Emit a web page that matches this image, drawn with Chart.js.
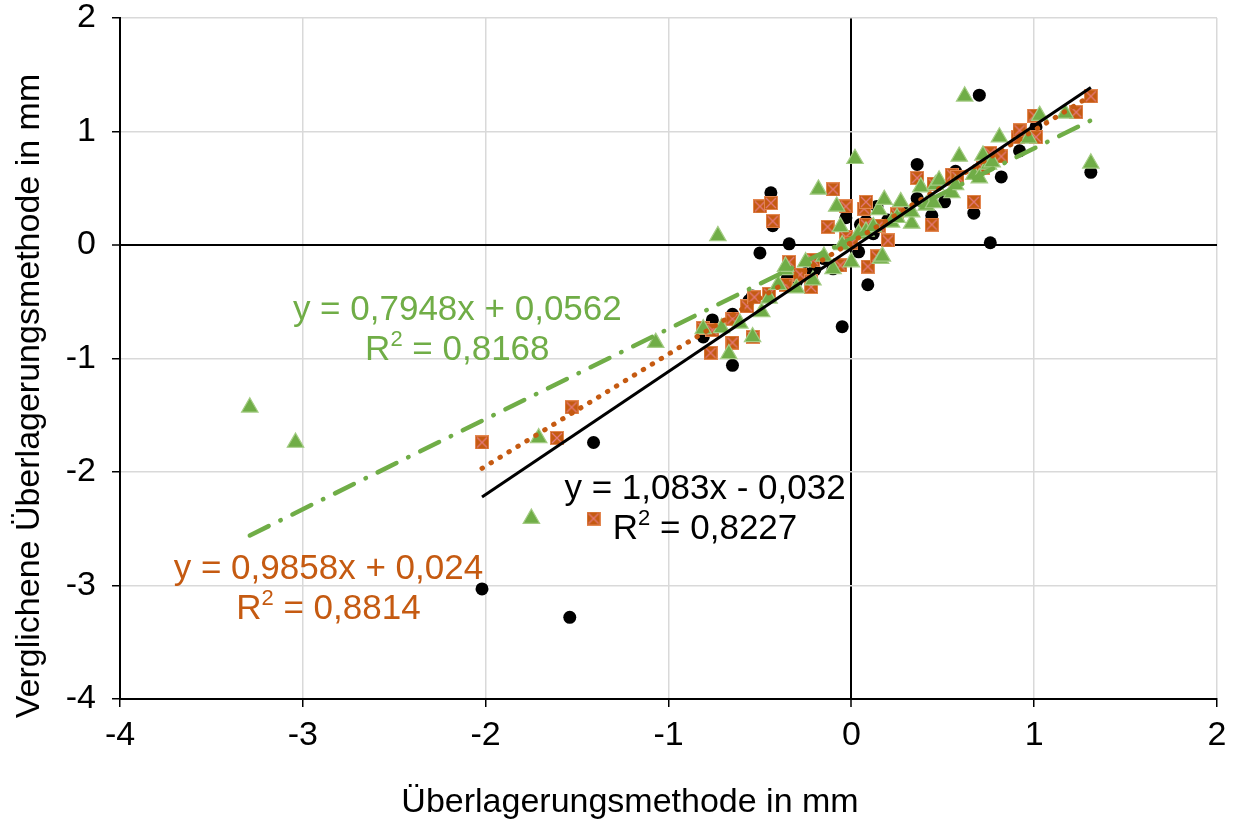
<!DOCTYPE html>
<html lang="de">
<head>
<meta charset="utf-8">
<title>Überlagerungsmethode</title>
<script src="https://cdn.jsdelivr.net/npm/chart.js@4.4.1/dist/chart.umd.min.js"></script>
<style>
  html, body { margin: 0; padding: 0; background: #fff; }
  canvas { display: block; }
</style>
</head>
<body>
<canvas id="chart" width="1236" height="822"></canvas>
<script>
const FONT = '"Liberation Sans", Arial, sans-serif';

// Messwerte: Überlagerungsmethode (x) gegen verglichene Methode (y), in mm
const blackX = [-2.02, -1.54, -1.41, -0.81, -0.76, -0.65, -0.65, -0.56, -0.54, -0.50, -0.44, -0.43, -0.34, -0.35,
  -0.30, -0.25, -0.20, -0.15, -0.10, -0.05, -0.03, 0.00, 0.04, 0.05, 0.08, 0.09, 0.12, 0.14, 0.20, 0.28,
  0.36, 0.36, 0.44, 0.51, 0.57, 0.67, 0.70, 0.76, 0.82, 0.92, 1.01, 1.31];
const blackY = [-3.03, -3.28, -1.74, -0.81, -0.66, -0.61, -1.06, -0.49, -0.45, -0.07, 0.46, 0.17, 0.01, -0.29,
  -0.32, -0.25, -0.22, -0.12, -0.21, -0.72, 0.24, 0.02, -0.06, 0.18, 0.21, -0.35, 0.10, 0.34, 0.22, 0.30,
  0.71, 0.41, 0.26, 0.38, 0.65, 0.28, 1.32, 0.02, 0.60, 0.83, 1.04, 0.64];

const orangeX = [-2.02, -1.61, -1.53, -1.41, -0.81, -0.77, -0.76, -0.65, -0.65, -0.57, -0.54, -0.53, -0.50, -0.45,
  -0.44, -0.43, -0.36, -0.34, -0.28, -0.22, -0.22, -0.21, -0.13, -0.10, -0.06, -0.03, -0.03, 0.00, 0.07, 0.08,
  0.08, 0.09, 0.14, 0.15, 0.20, 0.25, 0.36, 0.44, 0.45, 0.55, 0.58, 0.67, 0.72, 0.76, 0.82, 0.91, 0.92, 1.00,
  1.01, 1.23, 1.31];
const orangeY = [-1.74, -1.70, -1.43, -2.41, -0.73, -0.95, -0.75, -0.86, -0.65, -0.54, -0.81, -0.46, 0.34, -0.43,
  0.37, 0.21, -0.35, -0.15, -0.26, -0.32, -0.37, -0.13, 0.16, 0.49, -0.18, 0.07, 0.34, 0.02, 0.32, 0.38,
  0.18, -0.19, -0.10, 0.17, 0.04, 0.27, 0.59, 0.18, 0.54, 0.62, 0.60, 0.38, 0.68, 0.81, 0.78, 0.95, 1.01, 1.14,
  0.95, 1.17, 1.31];

const greenX = [-3.29, -3.04, -1.75, -1.71, -1.07, -0.81, -0.73, -0.71, -0.67, -0.61, -0.54, -0.49, -0.45, -0.40,
  -0.36, -0.36, -0.30, -0.25, -0.21, -0.18, -0.15, -0.10, -0.08, -0.06, -0.05, 0.00, 0.02, 0.04, 0.08, 0.12,
  0.15, 0.16, 0.17, 0.18, 0.22, 0.25, 0.27, 0.33, 0.33, 0.38, 0.41, 0.45, 0.46, 0.48, 0.55, 0.57, 0.59, 0.62,
  0.67, 0.70, 0.72, 0.75, 0.77, 0.81, 0.97, 1.03, 1.17, 1.31];
const greenY = [-1.43, -1.74, -2.41, -1.70, -0.86, -0.74, 0.08, -0.73, -0.96, -0.69, -0.81, -0.59, -0.47, -0.35,
  -0.22, -0.19, -0.38, -0.15, -0.31, 0.49, -0.10, -0.21, 0.34, 0.16, 0.00, -0.15, 0.76, 0.10, 0.12, 0.16,
  0.31, -0.12, -0.10, 0.40, 0.20, 0.24, 0.38, 0.19, 0.29, 0.51, 0.35, 0.37, 0.53, 0.57, 0.46, 0.53, 0.78, 1.31,
  0.62, 0.59, 0.79, 0.71, 0.73, 0.95, 0.94, 1.14, 1.16, 0.72];

// Lineare Trendlinien (schwarz, orange, grün)
const trendSlope = [1.083, 0.9858, 0.7948];
const trendIntercept = [-0.032, 0.024, 0.0562];
const trendR2 = [0.8227, 0.8814, 0.8168];
const trendFrom = [-2.02, -2.02, -3.29];
const trendTo = [1.31, 1.31, 1.31];
// Position der Gleichungen (Mitte der ersten Zeile, in Achseneinheiten)
const labelX = [-0.80, -2.86, -2.155];
const labelY = [-2.15, -2.86, -0.575];

const axisTicks = [-4, -3, -2, -1, 0, 1, 2];
const xTitle = 'Überlagerungsmethode in mm';
const yTitle = 'Verglichene Überlagerungsmethode in mm';

const BLACK = '#000000';
const ORANGE = '#C55A11';
const GREEN = '#70AD47';
const seriesColors = [BLACK, ORANGE, GREEN];

const toPoints = (xs, ys) => xs.map((v, i) => ({ x: v, y: ys[i] }));
const deNum = v => String(Math.abs(v)).replace('.', ',');

const trendPoints = i => [trendFrom[i], trendTo[i]].map(v => ({ x: v, y: trendSlope[i] * v + trendIntercept[i] }));
const equation = i => 'y = ' + deNum(trendSlope[i]) + 'x ' + (trendIntercept[i] < 0 ? '- ' : '+ ') + deNum(trendIntercept[i]);

// Quadrat-Marker mit hellem Kreuz
function squareMarker(size) {
  const c = document.createElement('canvas');
  c.width = c.height = size;
  const g = c.getContext('2d');
  g.fillStyle = ORANGE;
  g.fillRect(0, 0, size, size);
  g.strokeStyle = 'rgba(235,130,150,0.8)';
  g.lineWidth = 1.3;
  g.beginPath();
  g.moveTo(2, 2); g.lineTo(size - 2, size - 2);
  g.moveTo(size - 2, 2); g.lineTo(2, size - 2);
  g.stroke();
  g.strokeStyle = 'rgba(230,140,90,0.9)';
  g.lineWidth = 1;
  g.strokeRect(0.5, 0.5, size - 1, size - 1);
  return c;
}

function drawR2(ctx, cx, cy, value, size) {
  const mainFont = size + 'px ' + FONT;
  const supFont = Math.round(size * 0.62) + 'px ' + FONT;
  const rest = ' = ' + value;
  ctx.font = mainFont;
  const wR = ctx.measureText('R').width;
  const wRest = ctx.measureText(rest).width;
  ctx.font = supFont;
  const wSup = ctx.measureText('2').width;
  let x = cx - (wR + wSup + wRest) / 2;
  ctx.textAlign = 'left';
  ctx.font = mainFont;
  ctx.fillText('R', x, cy);
  x += wR;
  ctx.font = supFont;
  ctx.fillText('2', x, cy - size * 0.3);
  x += wSup;
  ctx.font = mainFont;
  ctx.fillText(rest, x, cy);
}

const textPlugin = {
  id: 'trendText',
  afterDraw(chart) {
    const { ctx, scales: { x, y } } = chart;
    const size = 35;
    ctx.save();
    ctx.textBaseline = 'middle';
    labelX.forEach((lx, i) => {
      const cx = x.getPixelForValue(lx);
      const cy = y.getPixelForValue(labelY[i]);
      ctx.fillStyle = seriesColors[i];
      ctx.font = size + 'px ' + FONT;
      ctx.textAlign = 'center';
      ctx.fillText(equation(i), cx, cy);
      drawR2(ctx, cx, cy + 40, deNum(trendR2[i]), size);
    });

    // Achsentitel
    ctx.fillStyle = '#000';
    ctx.font = '34px ' + FONT;
    ctx.textAlign = 'center';
    ctx.fillText(xTitle, 630, 803);
    ctx.translate(30, 396);
    ctx.rotate(-Math.PI / 2);
    ctx.fillText(yTitle, 0, 0);
    ctx.restore();
  }
};

const gridColor = c => (c.tick && c.tick.value === 0 ? '#000' : '#d9d9d9');
const gridWidth = c => (c.tick && c.tick.value === 0 ? 2 : 1.5);

const axis = (fit, padding) => ({
  type: 'linear',
  min: axisTicks[0],
  max: axisTicks[axisTicks.length - 1],
  afterFit: fit,
  afterBuildTicks: s => { s.ticks = axisTicks.map(v => ({ value: v })); },
  ticks: { color: '#000', padding: padding, maxRotation: 0, font: { size: 34, family: FONT } },
  grid: { color: gridColor, lineWidth: gridWidth, tickColor: '#000', tickLength: 8, tickWidth: 1.5 },
  border: { color: '#000', width: 2 }
});

new Chart(document.getElementById('chart'), {
  type: 'scatter',
  data: {
    datasets: [
      {
        label: 'Trend schwarz', data: trendPoints(0), showLine: true, pointRadius: 0,
        borderColor: BLACK, borderWidth: 3, order: 0
      },
      {
        label: 'Trend orange', data: trendPoints(1), showLine: true, pointRadius: 0,
        borderColor: ORANGE, borderWidth: 5, borderDash: [0.5, 10], borderCapStyle: 'round', order: 0
      },
      {
        label: 'Trend grün', data: trendPoints(2), showLine: true, pointRadius: 0,
        borderColor: GREEN, borderWidth: 4.5, borderDash: [21, 13, 0.5, 13], borderCapStyle: 'round', order: 0
      },
      {
        label: 'grün', data: toPoints(greenX, greenY), pointStyle: 'triangle', pointRadius: 9.5,
        backgroundColor: GREEN, borderColor: '#A4CC84', borderWidth: 1.2, order: 1
      },
      {
        label: 'orange', data: toPoints(orangeX, orangeY), pointStyle: squareMarker(14), pointRadius: 7,
        order: 2
      },
      {
        label: 'schwarz', data: toPoints(blackX, blackY), pointStyle: 'circle', pointRadius: 6.5,
        backgroundColor: BLACK, borderColor: BLACK, borderWidth: 0, order: 3
      }
    ]
  },
  options: {
    responsive: false,
    animation: false,
    layout: { padding: { top: 0, right: 0, bottom: 0, left: 0 } },
    plugins: { legend: { display: false }, tooltip: { enabled: false } },
    scales: {
      x: axis(s => { s.height = 123; s.paddingLeft = 0; s.paddingRight = 19; }, 8),
      y: axis(s => { s.width = 120; s.paddingTop = 18; s.paddingBottom = 0; }, 16)
    }
  },
  plugins: [textPlugin]
});
</script>
</body>
</html>
